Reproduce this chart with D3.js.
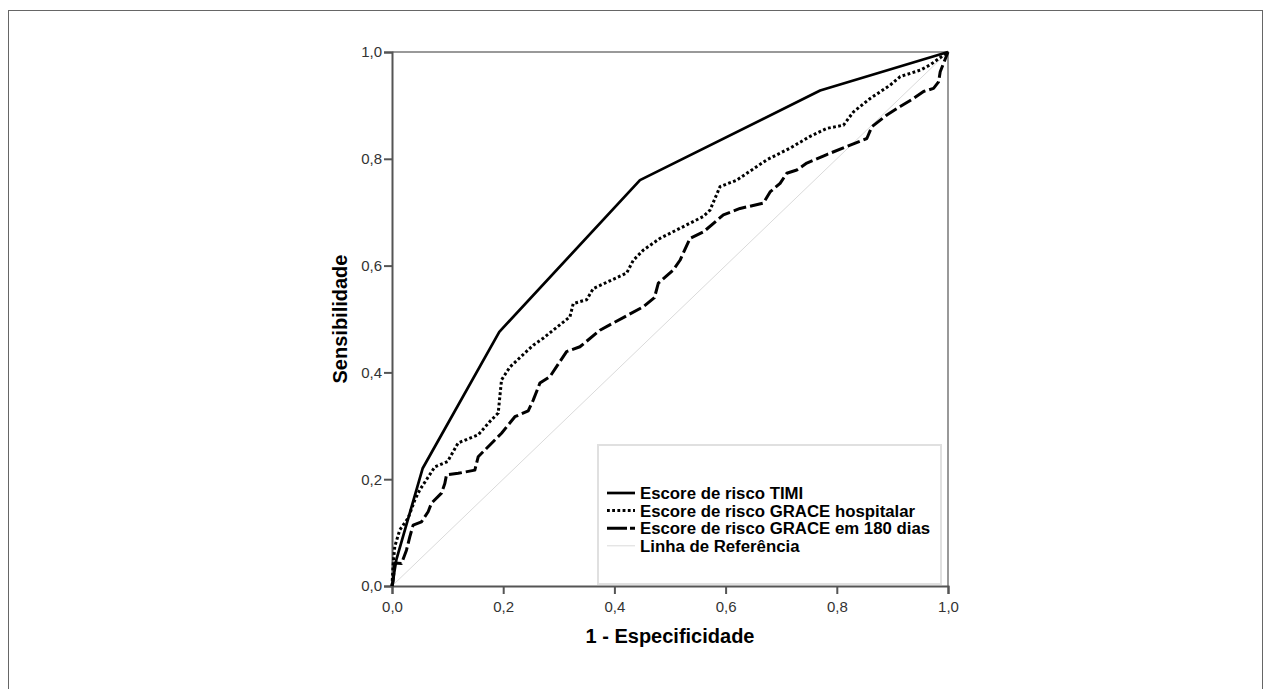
<!DOCTYPE html>
<html>
<head>
<meta charset="utf-8">
<script src="https://cdn.jsdelivr.net/npm/d3@7"></script>
<style>
  body { margin: 0; background: #fff; }
  svg { display: block; font-family: Arial, "Liberation Sans", sans-serif; }
</style>
</head>
<body>
<div id="chart"></div>
<script>
// 1 - especificidade (x) e sensibilidade (y) de cada curva
const timiX  = [0, 0.008, 0.055, 0.193, 0.446, 0.77, 1];
const timiY  = [0, 0.05, 0.22, 0.476, 0.76, 0.928, 1];

const hospX  = [0, 0.002, 0.005, 0.014, 0.029, 0.041, 0.05, 0.077, 0.10, 0.119, 0.155, 0.176, 0.191, 0.197,
                0.212, 0.254, 0.272, 0.32, 0.326, 0.35, 0.362, 0.422, 0.434, 0.452, 0.482, 0.56, 0.572, 0.59,
                0.62, 0.674, 0.716, 0.752, 0.782, 0.812, 0.83, 0.86, 0.896, 0.914, 0.95, 0.968, 1];
const hospY  = [0, 0.04, 0.074, 0.105, 0.127, 0.161, 0.18, 0.223, 0.233, 0.268, 0.283, 0.308, 0.324, 0.386,
                0.41, 0.451, 0.464, 0.504, 0.529, 0.536, 0.557, 0.586, 0.61, 0.629, 0.651, 0.692, 0.704, 0.748,
                0.76, 0.798, 0.82, 0.842, 0.857, 0.863, 0.888, 0.913, 0.938, 0.954, 0.966, 0.976, 1];

const d180X  = [0, 0.002, 0.005, 0.017, 0.026, 0.032, 0.038, 0.053, 0.065, 0.071, 0.089, 0.095, 0.098, 0.119,
                0.149, 0.155, 0.197, 0.221, 0.245, 0.254, 0.266, 0.284, 0.314, 0.338, 0.374, 0.452, 0.472,
                0.479, 0.506, 0.518, 0.536, 0.56, 0.596, 0.626, 0.668, 0.68, 0.698, 0.71, 0.728, 0.746, 0.782,
                0.818, 0.854, 0.863, 0.89, 0.914, 0.938, 0.956, 0.974, 0.983, 0.986, 1];
const d180Y  = [0, 0.008, 0.043, 0.042, 0.067, 0.092, 0.114, 0.12, 0.139, 0.155, 0.174, 0.192, 0.208, 0.211,
                0.217, 0.242, 0.286, 0.317, 0.328, 0.348, 0.38, 0.392, 0.439, 0.448, 0.479, 0.523, 0.54,
                0.567, 0.592, 0.61, 0.651, 0.663, 0.695, 0.707, 0.717, 0.738, 0.754, 0.773, 0.779, 0.792, 0.808,
                0.823, 0.838, 0.86, 0.882, 0.898, 0.913, 0.926, 0.932, 0.944, 0.963, 1];

const refX   = [0, 1];
const refY   = [0, 1];

const seriesNames = ['Escore de risco TIMI', 'Escore de risco GRACE hospitalar',
                     'Escore de risco GRACE em 180 dias', 'Linha de Referência'];
const tickValues  = [0, 0.2, 0.4, 0.6, 0.8, 1.0];

const width  = 1264;
const height = 689;
const plot   = {left: 392, top: 52, right: 948, bottom: 586};

const series = [
  {name: seriesNames[0], xs: timiX, ys: timiY, color: '#000', w: 2.7, dash: null,      legendDash: null},
  {name: seriesNames[1], xs: hospX, ys: hospY, color: '#000', w: 3,   dash: '2.8,2.4', legendDash: '2.8,2.4'},
  {name: seriesNames[2], xs: d180X, ys: d180Y, color: '#000', w: 3,   dash: '13,4',    legendDash: '20,3'},
  {name: seriesNames[3], xs: refX,  ys: refY,  color: '#dadada', w: 1, dash: null,     legendDash: null}
];

const svg = d3.select('#chart')
  .append('svg')
  .attr('width', width)
  .attr('height', height);

// outer frame (continues below the bottom edge)
svg.append('rect')
  .attr('x', 8.5).attr('y', 10.5)
  .attr('width', 1254).attr('height', 720)
  .attr('fill', 'none')
  .attr('stroke', '#666')
  .attr('stroke-width', 1);

const xScale = d3.scaleLinear().domain([0, 1]).range([plot.left, plot.right]);
const yScale = d3.scaleLinear().domain([0, 1]).range([plot.bottom, plot.top]);
const fmt = d => d3.format('.1f')(d).replace('.', ',');

// top and right frame of the plot
svg.append('path')
  .attr('d', `M${xScale(0)},${yScale(1)}H${xScale(1)}V${yScale(0)}`)
  .attr('fill', 'none')
  .attr('stroke', '#999')
  .attr('stroke-width', 2);

// x-axis
svg.append('g')
  .attr('class', 'x-axis')
  .attr('transform', `translate(0, ${plot.bottom})`)
  .call(d3.axisBottom(xScale).tickValues(tickValues).tickFormat(fmt).tickSizeOuter(0).tickSize(8).tickPadding(7));

// y-axis
svg.append('g')
  .attr('class', 'y-axis')
  .attr('transform', `translate(${plot.left}, 0)`)
  .call(d3.axisLeft(yScale).tickValues(tickValues).tickFormat(fmt).tickSizeOuter(0).tickSize(8).tickPadding(2));

svg.selectAll('.x-axis path, .y-axis path, .x-axis line, .y-axis line')
  .attr('stroke', '#555')
  .attr('stroke-width', 2);
svg.selectAll('.x-axis text, .y-axis text')
  .attr('fill', '#333')
  .style('font-size', '15px');

// lines
const line = d3.line().x(d => xScale(d[0])).y(d => yScale(d[1]));

const drawOrder = [3, 2, 1, 0];
drawOrder.forEach(i => {
  const s = series[i];
  const pts = s.xs.map((x, k) => [x, s.ys[k]]);
  svg.append('path')
    .datum(pts)
    .attr('d', line)
    .attr('fill', 'none')
    .attr('stroke', s.color)
    .attr('stroke-width', s.w)
    .attr('stroke-linejoin', 'round')
    .attr('stroke-dasharray', s.dash);
});

// legend
const legend = svg.append('g').attr('class', 'legend');
legend.append('rect')
  .attr('x', 598).attr('y', 445)
  .attr('width', 343).attr('height', 139)
  .attr('fill', '#fff')
  .attr('stroke', '#e0e0e0')
  .attr('stroke-width', 2);

const rows = legend.selectAll('g.row')
  .data(series)
  .enter()
  .append('g')
  .attr('class', 'row')
  .attr('transform', (d, i) => `translate(607, ${493 + i * 17.6})`);

rows.append('line')
  .attr('x1', 0).attr('x2', 28)
  .attr('stroke', d => d.color)
  .attr('stroke-width', d => d.w)
  .attr('stroke-dasharray', d => d.legendDash);

rows.append('text')
  .attr('x', 33)
  .attr('dy', '0.36em')
  .style('font-size', '16.8px')
  .style('font-weight', 'bold')
  .attr('fill', '#000')
  .text(d => d.name);

// axis titles
svg.append('text')
  .attr('x', (plot.left + plot.right) / 2)
  .attr('y', 643)
  .attr('text-anchor', 'middle')
  .style('font-size', '20px')
  .style('font-weight', 'bold')
  .text('1 - Especificidade');

svg.append('text')
  .attr('transform', `translate(347, ${(plot.top + plot.bottom) / 2}) rotate(-90)`)
  .attr('text-anchor', 'middle')
  .style('font-size', '20px')
  .style('font-weight', 'bold')
  .text('Sensibilidade');
</script>
</body>
</html>
